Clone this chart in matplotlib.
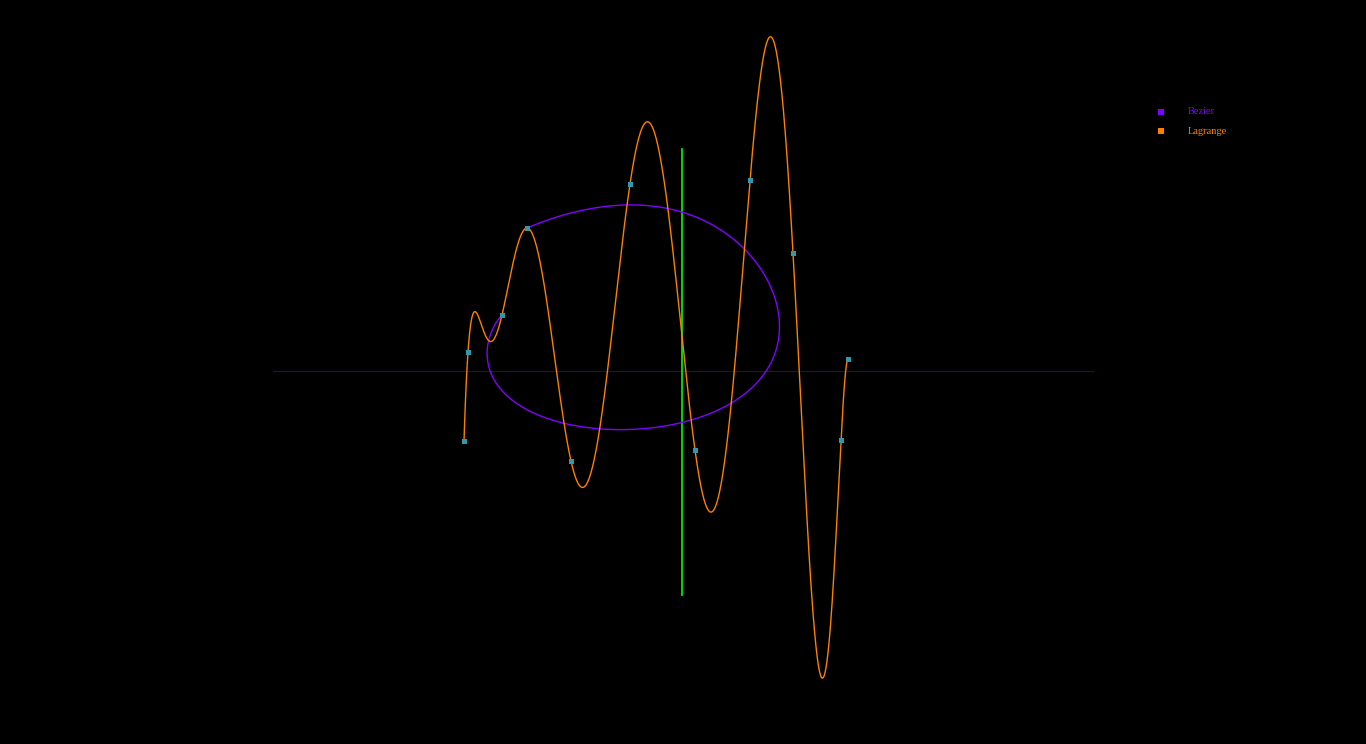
import numpy as np
import matplotlib
matplotlib.use("Agg")
import matplotlib.pyplot as plt
from matplotlib.lines import Line2D
from math import comb

# Control points in click order (data units, origin at axis centre, y up)
pts_x = [-181, -215, -219, -112, 12, 158, 165, 110, 67, -53, -156]
pts_y = [56, 19, -70, -90, -79, -69, 12, 118, 191, 187, 143]

series_names = ["Bezier", "Lagrange"]
series_colors = ["#8000ff", "#ff8000"]
point_color = "#3399aa"
axis_color = "#0000ff"
cursor_color = "#00ff00"

axis_x_range = [-410, 410]
cursor_x = -1
cursor_y_range = [-224, 222]

W, H = 1366, 744
fig = plt.figure(figsize=(W / 100, H / 100), dpi=100, facecolor="black")
ax = fig.add_axes([0, 0, 1, 1])
ax.set_facecolor("black")
ax.set_xlim(-683, 683)
ax.set_ylim(371 - H, 371)
ax.axis("off")

px = np.array(pts_x, dtype=float)
py = np.array(pts_y, dtype=float)

# x axis and cursor line
ax.plot(axis_x_range, [0, 0], color=axis_color, lw=0.75, zorder=1)
ax.plot([cursor_x, cursor_x], cursor_y_range, color=cursor_color, lw=1.2, zorder=2)

# Bezier curve (all points, click order)
n = len(px) - 1
t = np.linspace(0, 1, 800)
bx = np.zeros_like(t)
by = np.zeros_like(t)
for k in range(n + 1):
    b = comb(n, k) * t ** k * (1 - t) ** (n - k)
    bx += b * px[k]
    by += b * py[k]
ax.plot(bx, by, color=series_colors[0], lw=1, zorder=3)

# Lagrange polynomial (points sorted by x)
order = np.argsort(px)
sx, sy = px[order], py[order]
xs = np.linspace(sx[0], sx[-1], 1500)
ys = np.zeros_like(xs)
for i in range(len(sx)):
    li = np.ones_like(xs)
    for j in range(len(sx)):
        if j != i:
            li *= (xs - sx[j]) / (sx[i] - sx[j])
    ys += sy[i] * li
ax.plot(xs, ys, color=series_colors[1], lw=1, zorder=4)

# control points
ax.plot(px, py, ls="none", marker="s", ms=3.6, mew=0, color=point_color, zorder=5)

# legend
for i, (name, col) in enumerate(zip(series_names, series_colors)):
    yy = 1 - (112 + 19 * i) / H
    fig.add_artist(Line2D([1161 / W], [yy], marker="s", ms=4, mew=0, color=col,
                          ls="none", transform=fig.transFigure))
    fig.text(1188 / W, yy, name, color=col, fontsize=7.5,
             family="Liberation Serif", va="center", ha="left")

fig.savefig("out.png", dpi=100, facecolor="black")
